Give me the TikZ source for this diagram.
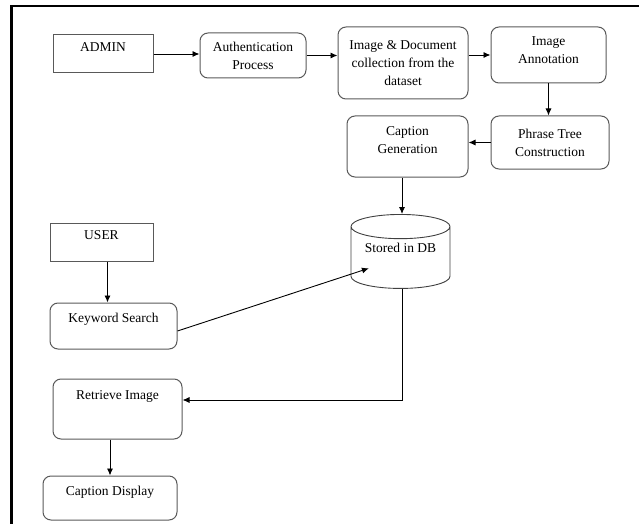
\documentclass[tikz,border=0pt]{standalone}
\usepackage{fontspec}
\setmainfont{Liberation Serif}
\usepackage{tikz}
\usetikzlibrary{shapes.geometric,arrows.meta,positioning,calc}

\begin{document}
\begin{tikzpicture}[
    x=1pt, y=-1pt,
    font=\fontsize{13.5}{18}\selectfont,
    box/.style={rectangle, draw=black!65, line width=1pt, align=center, inner sep=0pt},
    rbox/.style={box, rounded corners=8pt},
    db/.style={cylinder, shape border rotate=90, aspect=0.34, draw=black!75, line width=0.9pt, align=center, inner sep=0pt},
    arrow/.style={-{Latex[length=7pt,width=6pt]}, line width=0.9pt}
]
\useasboundingbox (0,0) rectangle (639,524);
\draw[line width=2.5pt] (11.3,524) -- (11.3,6) -- (639,6);

\node[box, minimum width=100, minimum height=38, text height=17, text depth=21] (admin) at (103,54) {ADMIN};
\node[rbox, minimum width=106, minimum height=45] (auth) at (253,55.5) {Authentication\\Process};
\node[rbox, minimum width=130, minimum height=72] (coll) at (403,63) {Image \& Document\\collection from the\\dataset};
\node[rbox, minimum width=115, minimum height=56, text depth=10] (annot) at (548.5,55) {Image\\Annotation};
\node[rbox, minimum width=118, minimum height=53] (phrase) at (550,142.5) {Phrase Tree\\Construction};
\node[rbox, minimum width=121, minimum height=61, text depth=12] (capgen) at (407.5,146.5) {Caption\\Generation};
\node[db, minimum width=99, minimum height=74, text height=10, text depth=20, anchor=north] (store) at (400.5,214) {Stored in DB};

\node[box, minimum width=103, minimum height=38, text height=16, text depth=22] (user) at (101.5,242) {USER};
\node[rbox, minimum width=127, minimum height=46, text height=19, text depth=27] (kw) at (113.5,326) {Keyword Search};
\node[rbox, minimum width=129, minimum height=60, text height=20, text depth=40] (retr) at (117.5,409) {Retrieve Image};
\node[rbox, minimum width=134, minimum height=44, text height=19, text depth=25] (disp) at (110,498) {Caption Display};

\draw[arrow] (admin.east) -- (admin.east -| auth.west);
\draw[arrow] (auth.east) -- (auth.east -| coll.west);
\draw[arrow] (annot.west -| coll.east) -- (annot.west);
\draw[arrow] (annot.south) -- (annot.south |- phrase.north);
\draw[arrow] (phrase.west) -- (phrase.west -| capgen.east);
\draw[arrow] ([xshift=1.5pt]store.north |- capgen.south) -- ([xshift=1.5pt]store.north);
\draw[arrow] ([xshift=6pt]user.south) -- ([xshift=6pt]user.south |- kw.north);
\draw[arrow] ([yshift=-5pt]kw.east) -- ($(store.north west)!0.73!(store.south west)$);
\draw[arrow] ([xshift=1.5pt]store.south) |- ([yshift=9pt]retr.east);
\draw[arrow] (disp.north |- retr.south) -- (disp.north);
\end{tikzpicture}
\end{document}
